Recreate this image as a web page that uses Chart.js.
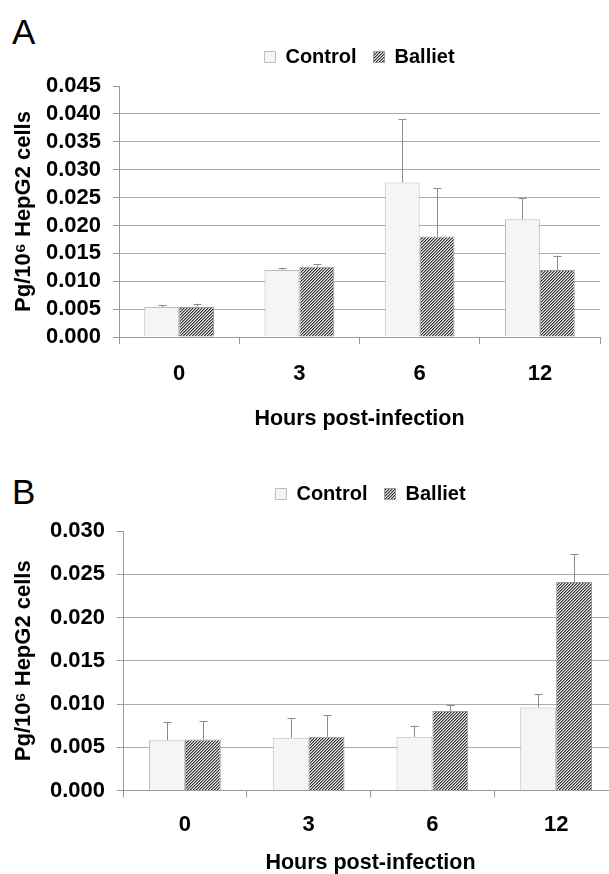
<!DOCTYPE html>
<html>
<head>
<meta charset="utf-8">
<script src="https://cdn.jsdelivr.net/npm/chart.js@4.4.1/dist/chart.umd.min.js"></script>
<style>
  html, body { margin: 0; padding: 0; background: #fff; overflow: hidden; width: 609px; height: 874px; }
  canvas { position: absolute; left: 0; }
  .tag { position: absolute; left: 12px; font: 35px "Liberation Sans", Arial, sans-serif; line-height: 1; color: #000; }
</style>
</head>
<body>
<div class="tag" style="top:14px">A</div>
<div class="tag" style="top:474px">B</div>
<canvas id="chartA" width="609" height="440" style="top:0"></canvas>
<canvas id="chartB" width="620" height="440" style="top:440px"></canvas>
<script>
const hours = ["0", "3", "6", "12"];

// panel A
const controlA = [0.0054, 0.0120, 0.0277, 0.0211];
const controlErrA = [0.0003, 0.0004, 0.0113, 0.0038];
const ballietA = [0.0054, 0.0126, 0.0180, 0.0120];
const ballietErrA = [0.0006, 0.0004, 0.0087, 0.0026];

// panel B
const controlB = [0.0058, 0.0061, 0.0062, 0.0096];
const controlErrB = [0.0021, 0.0023, 0.0013, 0.0015];
const ballietB = [0.0059, 0.0062, 0.0092, 0.0241];
const ballietErrB = [0.0021, 0.0025, 0.0007, 0.0032];

Chart.defaults.font.family = '"Liberation Sans", Arial, sans-serif';
Chart.defaults.font.weight = 'bold';
Chart.defaults.font.size = 22;
Chart.defaults.color = '#000';

function hatch() {
  const c = document.createElement('canvas');
  c.width = 3; c.height = 3;
  const g = c.getContext('2d');
  const shades = ['#333', '#999', '#e6e6e6'];
  for (let i = 0; i < 3; i++) {
    for (let k = 0; k < 3; k++) {
      g.fillStyle = shades[k];
      g.fillRect(i, (2 - i + k) % 3, 1, 1);
    }
  }
  return g.createPattern(c, 'repeat');
}
const stripes = hatch();

// upper error bars, drawn from the dataset's err array
const errorBars = {
  id: 'errorBars',
  afterDatasetsDraw(chart) {
    const {ctx, scales: {y}} = chart;
    ctx.save();
    ctx.strokeStyle = '#8c8c8c';
    ctx.lineWidth = 1;
    chart.data.datasets.forEach((ds, i) => {
      chart.getDatasetMeta(i).data.forEach((bar, j) => {
        const x = Math.round(bar.x) + 0.5;
        const top = y.getPixelForValue(ds.data[j] + ds.err[j]);
        ctx.beginPath();
        ctx.moveTo(x, bar.y);
        ctx.lineTo(x, top);
        ctx.moveTo(x - 4, Math.round(top) + 0.5);
        ctx.lineTo(x + 4, Math.round(top) + 0.5);
        ctx.stroke();
      });
    });
    ctx.restore();
  }
};

// centre the legend over the plot and put it at a fixed height
const legendPlace = {
  id: 'legendPlace',
  afterLayout(chart, args, opts) {
    const lg = chart.legend, a = chart.chartArea;
    const h = lg.bottom - lg.top;
    lg.left = a.left; lg.right = a.right;
    lg.top = opts.top; lg.bottom = opts.top + h;
  }
};

function makeChart(id, control, controlErr, balliet, ballietErr, cfg) {
  const gridColor = '#ababab';
  return new Chart(document.getElementById(id), {
    type: 'bar',
    data: {
      labels: hours,
      datasets: [
        {
          label: 'Control',
          data: control,
          err: controlErr,
          backgroundColor: '#f5f5f5',
          borderColor: '#bcbcbc',
          borderWidth: 1,
          categoryPercentage: 0.58,
          barPercentage: 1.0
        },
        {
          label: 'Balliet',
          data: balliet,
          err: ballietErr,
          backgroundColor: stripes,
          borderColor: '#9a9a9a',
          borderWidth: 1,
          categoryPercentage: 0.58,
          barPercentage: 1.0
        }
      ]
    },
    options: {
      responsive: false,
      animation: false,
      layout: { padding: { top: cfg.padTop, right: cfg.padRight, left: 0, bottom: 0 } },
      plugins: {
        legend: {
          position: 'top',
          labels: { boxWidth: 11, boxHeight: 11, padding: 17, font: { size: 20, weight: 'bold' } }
        },
        legendPlace: { top: cfg.legendTop },
        tooltip: { enabled: false }
      },
      scales: {
        x: {
          grid: { drawOnChartArea: false, tickLength: 7, color: '#999', offset: true },
          border: { color: '#999' },
          ticks: { padding: cfg.xPad, font: { size: 22, weight: 'bold' } },
          title: { display: true, text: 'Hours post-infection', font: { size: 21.5, weight: 'bold' }, padding: { top: 0, bottom: cfg.xTitlePad } },
          afterFit(s) { s.height = cfg.xHeight; }
        },
        y: {
          min: 0,
          max: cfg.yMax,
          grid: {
            tickLength: 6,
            tickColor: '#999',
            color: c => (c.tick && c.tick.value > cfg.yMax - 1e-9) ? 'rgba(0,0,0,0)' : gridColor
          },
          border: { color: '#999' },
          ticks: { stepSize: 0.005, autoSkip: false, padding: 12, callback: v => v.toFixed(3), font: { size: 22, weight: 'bold' } },
          title: { display: true, text: 'Pg/10\u2076 HepG2 cells', font: { size: 22, weight: 'bold' }, padding: { top: 11, bottom: 0 } },
          afterFit(s) { s.width = cfg.yWidth; }
        }
      }
    },
    plugins: [errorBars, legendPlace]
  });
}

makeChart('chartA', controlA, controlErrA, ballietA, ballietErrA, {
  yMax: 0.045, padTop: 39, padRight: 9, legendTop: 30,
  yWidth: 119, xHeight: 103, xPad: 17, xTitlePad: 8.5
});

makeChart('chartB', controlB, controlErrB, ballietB, ballietErrB, {
  yMax: 0.030, padTop: 44, padRight: 2, legendTop: 27,
  yWidth: 123, xHeight: 89.5, xPad: 14, xTitlePad: 4
});
</script>
</body>
</html>
